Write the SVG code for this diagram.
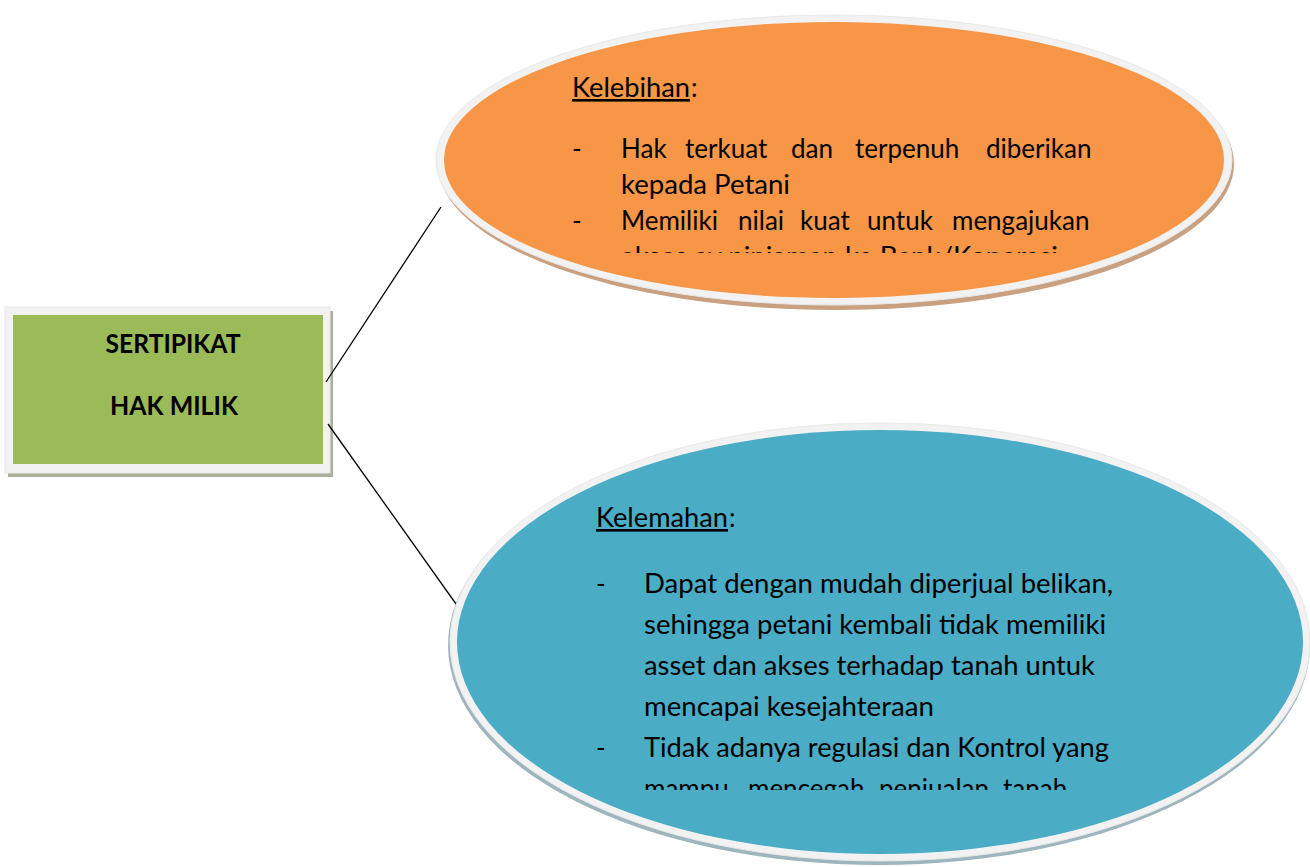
<svg xmlns="http://www.w3.org/2000/svg" width="1310" height="867" viewBox="0 0 1310 867">
<style>
.t{font-family:Lato,"Open Sans","Liberation Sans",sans-serif;font-size:26px;fill:#000}
.b{font-family:Lato,"Open Sans","Liberation Sans",sans-serif;font-size:26px;font-weight:bold;fill:#000}
.c{stroke:#000;stroke-width:1.3;fill:none}
.rim{fill:#f2f2f2;stroke:#e8e8e8;stroke-width:1}
</style>
<defs>
<clipPath id="clipTop"><rect x="500" y="60" width="700" height="193"/></clipPath>
<clipPath id="clipBot"><rect x="520" y="490" width="700" height="300"/></clipPath>
</defs>
<rect width="1310" height="867" fill="#fff"/>

<g id="node-sertipikat">
<rect x="8" y="311" width="325" height="166" fill="#a9b19a"/>
<rect x="5" y="307" width="325" height="166" class="rim"/>
<rect x="13" y="315" width="310" height="149" fill="#9bbb59"/>
<text class="b" x="173" y="353" text-anchor="middle" textLength="135" lengthAdjust="spacingAndGlyphs">SERTIPIKAT</text>
<text class="b" x="174" y="415" text-anchor="middle" textLength="128" lengthAdjust="spacingAndGlyphs">HAK MILIK</text>
</g>

<g id="connectors">
<line class="c" x1="326" y1="382" x2="441" y2="207"/>
<line class="c" x1="328" y1="424" x2="466" y2="618"/>
</g>

<g id="node-kelebihan">
<ellipse cx="836" cy="164" rx="398" ry="146" fill="#c9a080"/>
<ellipse cx="834" cy="160" rx="398" ry="145" class="rim"/>
<ellipse cx="834" cy="160" rx="390" ry="138" fill="#f79646"/>
<text class="t" x="572" y="97" text-decoration="underline" textLength="118" lengthAdjust="spacingAndGlyphs">Kelebihan</text>
<text class="t" x="691" y="97">:</text>
<g clip-path="url(#clipTop)">
<text class="t" x="572" y="158">-</text>
<text class="t" y="158"><tspan x="621">Hak</tspan><tspan x="685">terkuat</tspan><tspan x="791">dan</tspan><tspan x="855">terpenuh</tspan><tspan x="986">diberikan</tspan></text>
<text class="t" x="621" y="194" textLength="169" lengthAdjust="spacingAndGlyphs">kepada Petani</text>
<text class="t" x="572" y="230">-</text>
<text class="t" y="230"><tspan x="621">Memiliki</tspan><tspan x="738">nilai</tspan><tspan x="800">kuat</tspan><tspan x="867">untuk</tspan><tspan x="952">mengajukan</tspan></text>
<text class="t" x="621" y="266" textLength="437" lengthAdjust="spacingAndGlyphs">akses ay pinjaman ke Bank/Koperasi</text>
</g>
</g>

<g id="node-kelemahan">
<ellipse cx="879" cy="645" rx="431" ry="220" fill="#9db5be"/>
<ellipse cx="880" cy="642" rx="430" ry="219" class="rim"/>
<ellipse cx="880" cy="642" rx="423" ry="212" fill="#4bacc6"/>
<text class="t" x="596" y="527" text-decoration="underline" textLength="132" lengthAdjust="spacingAndGlyphs">Kelemahan</text>
<text class="t" x="729" y="527">:</text>
<g clip-path="url(#clipBot)">
<text class="t" x="596" y="593">-</text>
<text class="t" x="644" y="593" textLength="469" lengthAdjust="spacingAndGlyphs">Dapat dengan mudah diperjual belikan,</text>
<text class="t" x="644" y="634" textLength="462" lengthAdjust="spacingAndGlyphs">sehingga petani kembali tidak memiliki</text>
<text class="t" x="644" y="675" textLength="451" lengthAdjust="spacingAndGlyphs">asset dan akses terhadap tanah untuk</text>
<text class="t" x="644" y="716" textLength="290" lengthAdjust="spacingAndGlyphs">mencapai kesejahteraan</text>
<text class="t" x="596" y="757">-</text>
<text class="t" x="644" y="757" textLength="465" lengthAdjust="spacingAndGlyphs">Tidak adanya regulasi dan Kontrol yang</text>
<text class="t" y="798"><tspan x="644">mampu</tspan><tspan x="748">mencegah</tspan><tspan x="879">penjualan</tspan><tspan x="1003">tanah</tspan></text>
</g>
</g>
</svg>
